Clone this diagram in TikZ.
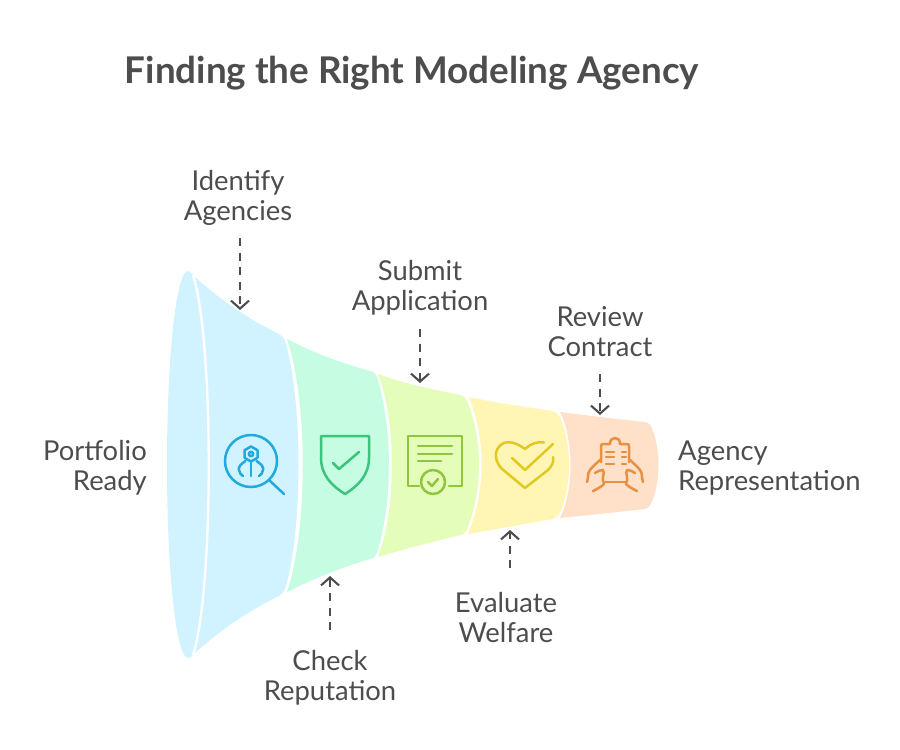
\documentclass[tikz,border=0pt]{standalone}
\usepackage{fontspec}
\setmainfont{Lato}
\usetikzlibrary{arrows.meta}
\definecolor{ink}{HTML}{4D4D4D}
\definecolor{fblue}{HTML}{D0F3FF}
\definecolor{fgreen}{HTML}{C5FCE2}
\definecolor{flime}{HTML}{E5FDBA}
\definecolor{fyellow}{HTML}{FFF6B5}
\definecolor{forange}{HTML}{FFE0C9}
\definecolor{iblue}{HTML}{22A9DD}
\definecolor{igreen}{HTML}{3CC47C}
\definecolor{ilime}{HTML}{8FC63D}
\definecolor{iyellow}{HTML}{E0C920}
\definecolor{iorange}{HTML}{E8903F}
\tikzset{
  lbl/.style={text=ink,font=\fontsize{27.4}{30}\selectfont,inner sep=0pt,align=center},
  ttl/.style={text=ink,font=\fontsize{36.8}{42}\selectfont\bfseries,inner sep=0pt},
  dasharrow/.style={draw=ink,line width=2.1pt,dash pattern=on 8pt off 6.5pt,-{Straight Barb[length=8pt,width=18pt,line width=2.1pt]}},
  icon/.style={line width=2.5pt,line cap=round,line join=round,fill=none},
}
\begin{document}
\begin{tikzpicture}[x=1pt,y=-1pt]
\useasboundingbox (0,0) rectangle (900,750);
\fill[white] (0,0) rectangle (900,750);
% funnel
\fill[fblue] (188,271) .. controls (191,272) and (192,274) .. (194,276)
  .. controls (220,300) and (250,320) .. (279,334) .. controls (282,336) and (284,338) .. (285,341)
  .. controls (303,400) and (303,530) .. (285,589) .. controls (284,592) and (282,594) .. (279,596)
  .. controls (250,610) and (220,630) .. (194,654) .. controls (192,656) and (191,658) .. (188,658)
  .. controls (176,658) and (167,571) .. (167,465) .. controls (167,358) and (176,271) .. (188,271) -- cycle;
\draw[white,line width=2.4pt] (193,275) .. controls (214,340) and (214,590) .. (193,655);
\fill[fgreen] (287,339) .. controls (315,354) and (345,364) .. (370,371) .. controls (374,372) and (376,374) .. (377,377)
  .. controls (393,430) and (393,500) .. (377,553) .. controls (376,556) and (374,558) .. (370,559)
  .. controls (345,566) and (315,578) .. (287,592) .. controls (308,530) and (308,400) .. (287,339) -- cycle;
\fill[flime] (378,374) .. controls (405,384) and (435,390) .. (461,395) .. controls (464,396) and (466,398) .. (467,401)
  .. controls (483,440) and (483,490) .. (467,529) .. controls (466,532) and (464,534) .. (461,535)
  .. controls (435,541) and (405,549) .. (378,557) .. controls (396.5,510) and (396.5,420) .. (378,374) -- cycle;
\fill[fyellow] (469,397) .. controls (497,403) and (525,407) .. (553,411) .. controls (556,412) and (558,414) .. (560,417)
  .. controls (572,445) and (572,485) .. (560,513) .. controls (558,516) and (556,518) .. (553,519)
  .. controls (525,524) and (497,529) .. (468,534) .. controls (486,490) and (486,440) .. (469,397) -- cycle;
\fill[forange] (560,412) .. controls (590,416) and (618,419) .. (645,422) .. controls (648,423) and (650,424) .. (651,426)
  .. controls (661,448) and (661,482) .. (651,504) .. controls (650,507) and (648,508) .. (645,509)
  .. controls (618,512) and (590,515) .. (560,518) .. controls (574,490) and (574,440) .. (560,412) -- cycle;
% search icon
\begin{scope}[icon,draw=iblue]
\draw (251,461) circle[radius=26];
\draw (269,480) -- (284,494);
\draw (251,446.5) -- (257.5,450.2) -- (257.5,457.8) -- (251,461.5) -- (244.5,457.8) -- (244.5,450.2) -- cycle;
\draw (251,454) circle[radius=2.2];
\draw (251,463) -- (251,476);
\draw (245.5,461) .. controls (241,464) and (238,467) .. (239,470) .. controls (239.5,473) and (241,475) .. (243,476);
\draw (256.5,461) .. controls (261,464) and (264,467) .. (263,470) .. controls (262.5,473) and (261,475) .. (259,476);
\end{scope}
% shield icon
\begin{scope}[icon,draw=igreen]
\draw (321,436) -- (369,436) -- (369,458) .. controls (369,475) and (358,486) .. (345,494) .. controls (332,486) and (321,475) .. (321,458) -- cycle;
\draw (333,463) -- (339,469) -- (359,452);
\end{scope}
% certificate icon
\begin{scope}[icon,draw=ilime]
\draw (419,486) -- (408,486) -- (408,436) -- (462,436) -- (462,486) -- (449,486);
\draw (418,446) -- (452,446) (418,454) -- (452,454) (418,461) -- (441,461);
\draw (433,482) circle[radius=12];
\draw (428,482) -- (432,486) -- (438,479);
\end{scope}
% heart icon
\begin{scope}[icon,draw=iyellow]
\draw (525,449) .. controls (517,443) and (508,440) .. (502,444) .. controls (494,449) and (494,460) .. (501,468) -- (525,488) -- (548,470) .. controls (552,466) and (554,462) .. (553,457);
\draw (525,449) .. controls (530,444) and (538,441) .. (544,442.5);
\draw (512,458) -- (525,470) -- (553,444);
\end{scope}
% contract icon
\begin{scope}[icon,draw=iorange]
\draw (601,462) -- (601,446) .. controls (601,444.5) and (602,444) .. (603,444) -- (610,444) .. controls (610,440) and (612,438) .. (615,438) .. controls (618,438) and (620,440) .. (620,444) -- (627,444) .. controls (628,444) and (629,444.5) .. (629,446) -- (629,462);
\draw (606,452) -- (614,452) (606,457) -- (614,457) (606,464) -- (614,464);
\draw (622,452) -- (626,452) (622,457) -- (626,457) (622,464) -- (626,464);
\draw (603,482) -- (627,482);
\draw (587,482) .. controls (589,476) and (587,474) .. (590,470) .. controls (593,466) and (597,463) .. (600,460);
\draw (595,473) .. controls (598,471) and (600,470) .. (603,470) .. controls (605,474) and (602,476) .. (603,481);
\draw (593,491) .. controls (597,489) and (601,487) .. (604,484);
\draw (643,482) .. controls (641,476) and (643,474) .. (640,470) .. controls (637,466) and (633,463) .. (630,460);
\draw (635,473) .. controls (632,471) and (630,470) .. (627,470) .. controls (625,474) and (628,476) .. (627,481);
\draw (637,491) .. controls (633,489) and (629,487) .. (626,484);
\end{scope}
% labels
\node[ttl] (title) at (412,73) {Finding the Right Modeling Agency};
\node[lbl] (identify) at (238,198) {Identify\\Agencies};
\node[lbl] (submit) at (420,288) {Submit\\Application};
\node[lbl] (review) at (600,332) {Review\\Contract};
\node[lbl,anchor=east,align=right] (portfolio) at (147,468) {Portfolio\\Ready};
\node[lbl,anchor=west,align=left] (agency) at (678,468) {Agency\\Representation};
\node[lbl] (check) at (330,678) {Check\\Reputation};
\node[lbl] (evaluate) at (506,618) {Evaluate\\Welfare};
% connectors
\coordinate (a1) at (240,238); \coordinate (b1) at (240,310);
\coordinate (a2) at (420,329); \coordinate (b2) at (420,383);
\coordinate (a3) at (600,374); \coordinate (b3) at (600,415);
\coordinate (a4) at (330,630); \coordinate (b4) at (330,576);
\coordinate (a5) at (510,568); \coordinate (b5) at (510,530);
\draw[dasharrow] (a1) -- (b1);
\draw[dasharrow] (a2) -- (b2);
\draw[dasharrow] (a3) -- (b3);
\draw[dasharrow] (a4) -- (b4);
\draw[dasharrow] (a5) -- (b5);
\end{tikzpicture}
\end{document}
